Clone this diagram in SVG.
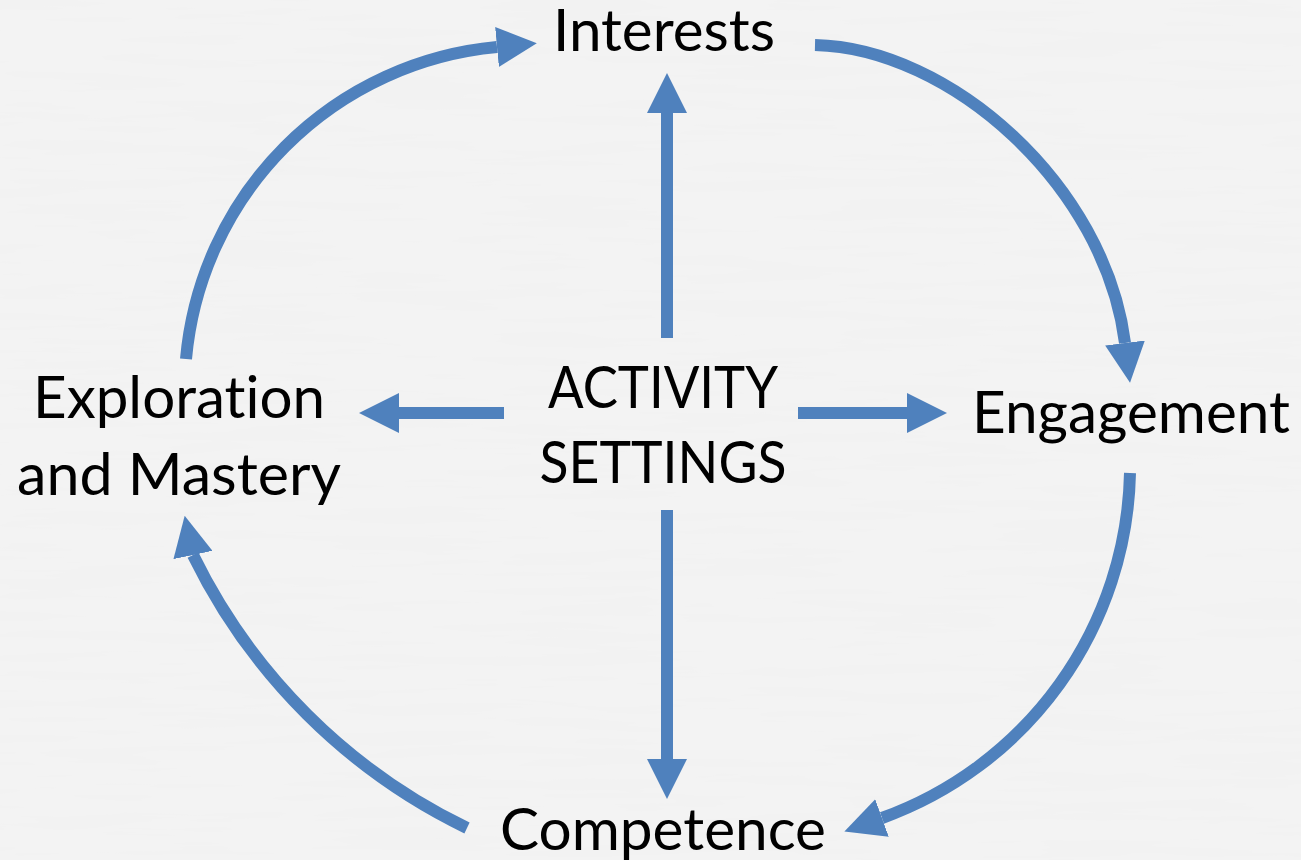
<svg xmlns="http://www.w3.org/2000/svg" width="1301" height="860" viewBox="0 0 1301 860">
  <style>
    .lbl { font-family: Lato, "Open Sans", "Liberation Sans", sans-serif; font-size: 58px; fill: #000; text-anchor: middle; font-variant-ligatures: none; }
    .conn { fill: none; stroke: #4f81bd; stroke-width: 12; marker-end: url(#head); }
  </style>
  <defs>
    <marker id="head" markerUnits="userSpaceOnUse" markerWidth="40" markerHeight="40" refX="0" refY="18" orient="auto" viewBox="0 0 36 36">
      <path d="M0,0 L36,18 L0,36 Z" fill="#4f81bd"/>
    </marker>
    <marker id="head-up" markerUnits="userSpaceOnUse" markerWidth="40" markerHeight="40" refX="0" refY="18" orient="258" viewBox="0 0 36 36">
      <path d="M0,0 L36,18 L0,36 Z" fill="#4f81bd"/>
    </marker>
    <filter id="paper" x="0" y="0" width="100%" height="100%">
      <feTurbulence type="fractalNoise" baseFrequency="0.006 0.09" numOctaves="3" seed="4"/>
      <feColorMatrix type="matrix" values="0 0 0 0 0.86  0 0 0 0 0.86  0 0 0 0 0.86  0.7 0 0 0 -0.28"/>
    </filter>
  </defs>
  <rect x="0" y="0" width="1301" height="860" fill="#f3f3f3"/>
  <rect x="0" y="0" width="1301" height="860" filter="url(#paper)"/>

  <g id="connectors">
    <path class="conn" d="M667,338 L667,113"/>
    <path class="conn" d="M504,413 L399,413"/>
    <path class="conn" d="M798,413 L907,413"/>
    <path class="conn" d="M667,510 L667,759"/>
    <path class="conn" d="M186,359 A344,344 0 0 1 497,47"/>
    <path class="conn" d="M815,45 C950,48 1105,185 1125,343"/>
    <path class="conn" d="M1130,473 A375,375 0 0 1 882,818"/>
    <path class="conn" style="marker-end: url(#head-up)" d="M467,828 A592,592 0 0 1 193,555"/>
  </g>

  <g id="node-interests">
    <text class="lbl" x="664" y="51" textLength="222" lengthAdjust="spacingAndGlyphs">Interests</text>
  </g>
  <g id="node-activity">
    <text class="lbl" x="663" y="408" textLength="230" lengthAdjust="spacingAndGlyphs">ACTIVITY</text>
    <text class="lbl" x="663" y="483" textLength="247" lengthAdjust="spacingAndGlyphs">SETTINGS</text>
  </g>
  <g id="node-exploration">
    <text class="lbl" x="179" y="418" textLength="292" lengthAdjust="spacingAndGlyphs">Exploration</text>
    <text class="lbl" x="179" y="495" textLength="324" lengthAdjust="spacingAndGlyphs">and Mastery</text>
  </g>
  <g id="node-engagement">
    <text class="lbl" x="1131" y="433" textLength="318" lengthAdjust="spacingAndGlyphs">Engagement</text>
  </g>
  <g id="node-competence">
    <text class="lbl" x="663" y="850" textLength="326" lengthAdjust="spacingAndGlyphs">Competence</text>
  </g>
</svg>
